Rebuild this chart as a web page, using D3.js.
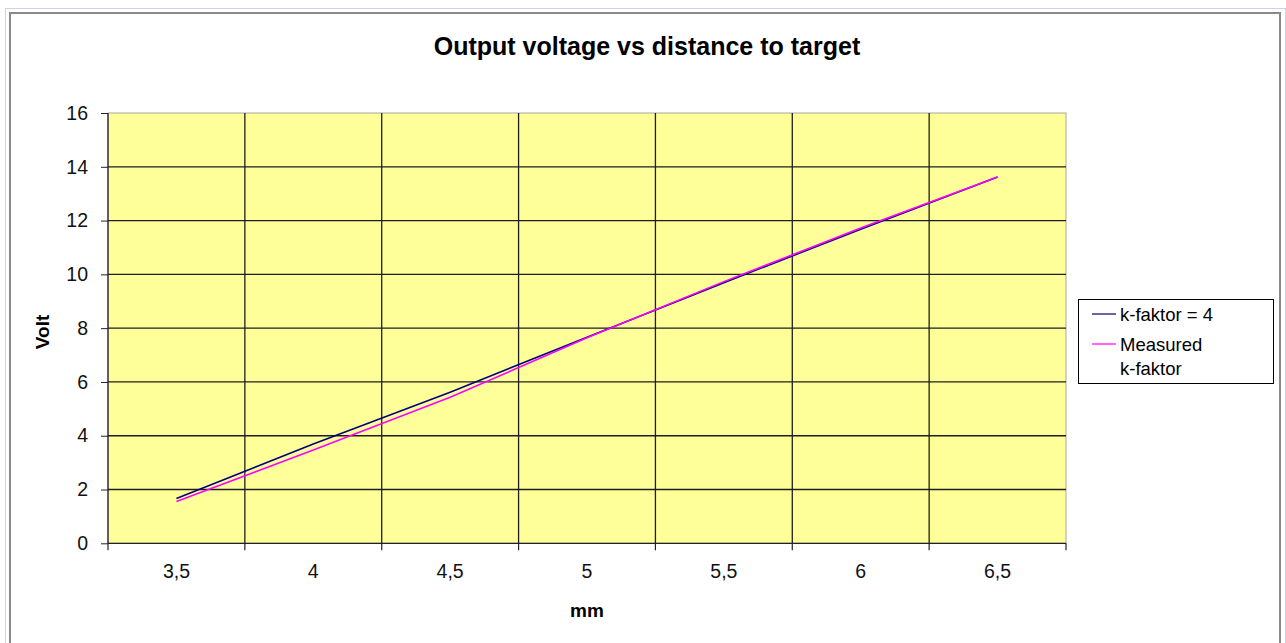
<!DOCTYPE html>
<html>
<head>
<meta charset="utf-8">
<script src="https://cdn.jsdelivr.net/npm/d3@7"></script>
<style>
  body { margin: 0; background: #fff; }
  svg { display: block; font-family: "Liberation Sans", Arial, sans-serif; }
  .axis path { display: none; }
  .axis line { stroke: #222; }
  .axis text { fill: #111; font-size: 19.5px; }
</style>
</head>
<body>
<div id="chart"></div>
<script>
// data
var distances = ["3,5", "4", "4,5", "5", "5,5", "6", "6,5"];
var kFaktor4 = [1.67, 3.69, 5.62, 7.66, 9.69, 11.68, 13.62];
var measured = [1.55, 3.47, 5.43, 7.64, 9.73, 11.72, 13.62];
var voltTicks = [0, 2, 4, 6, 8, 10, 12, 14, 16];
var seriesNames = ["k-faktor = 4", "Measured\nk-faktor"];

var width = 1286, height = 643;
var plot = {left: 108, right: 1066, top: 113, bottom: 543.3};

var svg = d3.select("#chart")
    .append("svg")
    .attr("width", width)
    .attr("height", height);

// window / chart frame
svg.append("rect")
    .attr("x", 5.5).attr("y", 8.5)
    .attr("width", 1280).attr("height", 660)
    .attr("fill", "none")
    .attr("stroke", "#c9d5e6");
svg.append("rect")
    .attr("x", 10).attr("y", 13)
    .attr("width", 1270).attr("height", 660)
    .attr("fill", "#fff")
    .attr("stroke", "#8a8a8a")
    .attr("stroke-width", 2);

var x = d3.scaleBand().domain(distances).range([plot.left, plot.right]);
var y = d3.scaleLinear().domain([0, 16]).range([plot.bottom, plot.top]);
var cx = function(i) { return x(distances[i]) + x.bandwidth() / 2; };

// plot area
svg.append("rect")
    .attr("x", plot.left).attr("y", plot.top)
    .attr("width", plot.right - plot.left)
    .attr("height", plot.bottom - plot.top)
    .attr("fill", "#ffff99")
    .attr("stroke", "#a8a8a0");

// horizontal grid
svg.selectAll("line.hgrid")
    .data(voltTicks.filter(function(d) { return d > 0 && d < 16; }))
    .enter()
    .append("line")
    .attr("class", "hgrid")
    .attr("x1", plot.left).attr("x2", plot.right)
    .attr("y1", function(d) { return y(d); })
    .attr("y2", function(d) { return y(d); })
    .attr("stroke", "#1e1e1e")
    .attr("stroke-width", 1.3);

// vertical grid at category boundaries
var bounds = distances.map(function(d) { return x(d); }).concat([plot.right]);
svg.selectAll("line.vgrid")
    .data(bounds.slice(1, -1))
    .enter()
    .append("line")
    .attr("class", "vgrid")
    .attr("x1", function(d) { return d; })
    .attr("x2", function(d) { return d; })
    .attr("y1", plot.top).attr("y2", plot.bottom)
    .attr("stroke", "#1e1e1e")
    .attr("stroke-width", 1.3);

// axis lines
svg.append("line")
    .attr("x1", plot.left).attr("x2", plot.left)
    .attr("y1", plot.top).attr("y2", plot.bottom)
    .attr("stroke", "#222").attr("stroke-width", 1.3);
svg.append("line")
    .attr("x1", plot.left).attr("x2", plot.right)
    .attr("y1", plot.bottom).attr("y2", plot.bottom)
    .attr("stroke", "#222").attr("stroke-width", 1.3);

// y axis
svg.append("g")
    .attr("class", "axis yaxis")
    .attr("transform", "translate(" + plot.left + ",0)")
    .call(d3.axisLeft(y).tickValues(voltTicks).tickSize(7).tickPadding(13));

// x axis: labels centred, ticks at boundaries
svg.append("g")
    .attr("class", "axis xaxis")
    .attr("transform", "translate(0," + plot.bottom + ")")
    .call(d3.axisBottom(x).tickSize(0).tickPadding(21));
svg.selectAll("line.xtick")
    .data(bounds)
    .enter()
    .append("line")
    .attr("class", "xtick")
    .attr("x1", function(d) { return d; })
    .attr("x2", function(d) { return d; })
    .attr("y1", plot.bottom).attr("y2", plot.bottom + 7)
    .attr("stroke", "#222").attr("stroke-width", 1.2);

// series
var line = d3.line()
    .x(function(d, i) { return cx(i); })
    .y(function(d) { return y(d); });
var colors = ["#000080", "#ff00ff"];
[kFaktor4, measured].forEach(function(s, k) {
    svg.append("path")
        .datum(s)
        .attr("fill", "none")
        .attr("stroke", colors[k])
        .attr("stroke-width", 1.6)
        .attr("d", line);
});

// titles
svg.append("text")
    .attr("x", 647).attr("y", 55)
    .attr("text-anchor", "middle")
    .attr("font-weight", "bold")
    .attr("font-size", 25)
    .text("Output voltage vs distance to target");
svg.append("text")
    .attr("transform", "translate(49,332) rotate(-90)")
    .attr("text-anchor", "middle")
    .attr("font-weight", "bold")
    .attr("font-size", 19)
    .text("Volt");
svg.append("text")
    .attr("x", 587).attr("y", 617)
    .attr("text-anchor", "middle")
    .attr("font-weight", "bold")
    .attr("font-size", 19)
    .text("mm");

// legend
var legend = svg.append("g");
legend.append("rect")
    .attr("x", 1078.5).attr("y", 299.5)
    .attr("width", 195).attr("height", 84)
    .attr("fill", "#fff")
    .attr("stroke", "#000");
var entryY = [314, 344];
seriesNames.forEach(function(name, k) {
    legend.append("line")
        .attr("x1", 1092).attr("x2", 1116)
        .attr("y1", entryY[k]).attr("y2", entryY[k])
        .attr("stroke", colors[k])
        .attr("stroke-width", 1.2);
    var t = legend.append("text")
        .attr("x", 1120)
        .attr("font-size", 18.5);
    name.split("\n").forEach(function(part, j) {
        t.append("tspan")
            .attr("x", 1120)
            .attr("y", entryY[k] + 6.5 + j * 24)
            .text(part);
    });
});
</script>
</body>
</html>
